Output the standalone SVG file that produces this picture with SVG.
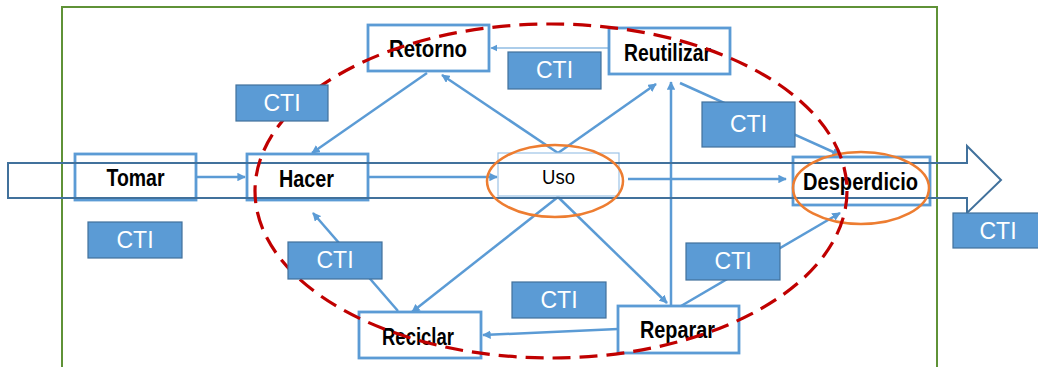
<svg xmlns="http://www.w3.org/2000/svg" width="1038" height="367" viewBox="0 0 1038 367">
<style>
.box{fill:#fff;stroke:#5B9BD5;stroke-width:2.8}
.lbl{font-family:"Liberation Sans",Arial,sans-serif;font-weight:bold;font-size:23px;fill:#000;text-anchor:middle}
.cti rect{fill:#5B9BD5;stroke:#41719C;stroke-width:1.2}
.cti text{font-family:"Liberation Sans",Arial,sans-serif;font-size:23px;fill:#fff;text-anchor:middle}
.con{stroke:#5B9BD5;stroke-width:2.5;fill:none;marker-end:url(#ah)}
.thin{stroke:#5B9BD5;stroke-width:1.2;fill:none;marker-end:url(#ahs)}
.orange{fill:none;stroke:#ED7D31;stroke-width:2.5}
</style>
<defs>
<marker id="ah" viewBox="0 0 10 10" refX="9" refY="5" markerWidth="3.4" markerHeight="3.4" orient="auto" markerUnits="strokeWidth">
<path d="M0,0 L10,5 L0,10 z" fill="#5B9BD5"/>
</marker>
<marker id="ahs" viewBox="0 0 10 10" refX="9" refY="5" markerWidth="6" markerHeight="6" orient="auto" markerUnits="strokeWidth">
<path d="M0,0 L10,5 L0,10 z" fill="#5B9BD5"/>
</marker>
</defs>
<rect width="1038" height="367" fill="#fff"/>
<rect id="frame" x="62" y="7" width="875" height="370" fill="none" stroke="#5F9237" stroke-width="2"/>

<g id="connectors">
<line class="con" x1="196" y1="177" x2="245" y2="177"/>
<line class="con" x1="368" y1="177" x2="497" y2="177"/>
<line class="con" x1="628" y1="179" x2="786" y2="179"/>
<line class="con" x1="427" y1="73" x2="312" y2="153"/>
<line class="con" x1="558" y1="153" x2="442" y2="75"/>
<line class="con" x1="558" y1="153" x2="656" y2="84"/>
<line class="thin" x1="609" y1="48" x2="491" y2="48"/>
<line class="con" x1="680" y1="83" x2="840" y2="155"/>
<line class="con" x1="671" y1="305" x2="671" y2="82"/>
<line class="con" x1="558" y1="197" x2="667" y2="303"/>
<line class="con" x1="558" y1="197" x2="412" y2="312"/>
<line class="con" x1="398" y1="311" x2="313" y2="213"/>
<line class="con" x1="618" y1="329" x2="483" y2="335"/>
<line class="con" x1="681" y1="306" x2="840" y2="213"/>
</g>

<g id="tomar"><rect class="box" x="75" y="154" width="121" height="46"/><text class="lbl" x="135.5" y="186" textLength="58" lengthAdjust="spacingAndGlyphs">Tomar</text></g>
<g id="hacer"><rect class="box" x="247" y="154" width="121" height="46"/><text class="lbl" x="306.5" y="187" textLength="55" lengthAdjust="spacingAndGlyphs">Hacer</text></g>
<g id="retorno"><rect class="box" x="368" y="25" width="121" height="46"/><text class="lbl" x="428" y="57" textLength="78" lengthAdjust="spacingAndGlyphs">Retorno</text></g>
<g id="reutilizar"><rect class="box" x="609" y="28" width="121" height="46"/><text class="lbl" x="667.5" y="61" textLength="87" lengthAdjust="spacingAndGlyphs">Reutilizar</text></g>
<g id="uso"><rect x="498" y="153" width="121" height="43" fill="#fff" stroke="#9DC3E6" stroke-width="1.2"/><text x="558.5" y="184" font-family="'Liberation Sans',Arial,sans-serif" font-size="21" text-anchor="middle" textLength="33" lengthAdjust="spacingAndGlyphs">Uso</text></g>
<g id="desperdicio"><rect class="box" x="793" y="157" width="137" height="48"/><text class="lbl" x="860.5" y="190" textLength="115" lengthAdjust="spacingAndGlyphs">Desperdicio</text></g>
<g id="reciclar"><rect class="box" x="359" y="312" width="122" height="46"/><text class="lbl" x="418" y="345" textLength="72" lengthAdjust="spacingAndGlyphs">Reciclar</text></g>
<g id="reparar"><rect class="box" x="618" y="306" width="121" height="47"/><text class="lbl" x="677.5" y="338" textLength="75" lengthAdjust="spacingAndGlyphs">Reparar</text></g>

<g id="flow-arrow">
<path d="M8,163 L967,163 L967,146 L1001,180 L967,213 L967,198 L8,198 Z" fill="none" stroke="#41719C" stroke-width="2"/>
</g>

<g id="highlights">
<ellipse class="orange" cx="555" cy="181" rx="68" ry="36"/>
<ellipse class="orange" cx="861" cy="188" rx="68" ry="36"/>
</g>

<g id="cycle">
<ellipse cx="551" cy="191" rx="296" ry="167" fill="none" stroke="#C00000" stroke-width="3.2" stroke-dasharray="18 9"/>
</g>

<g id="cti-1" class="cti"><rect x="236" y="85" width="92" height="36"/><text x="282" y="111">CTI</text></g>
<g id="cti-2" class="cti"><rect x="508" y="52" width="93" height="37"/><text x="554.5" y="78">CTI</text></g>
<g id="cti-3" class="cti"><rect x="702" y="102" width="93" height="45"/><text x="748.5" y="132">CTI</text></g>
<g id="cti-4" class="cti"><rect x="88" y="222" width="94" height="36"/><text x="135" y="248">CTI</text></g>
<g id="cti-5" class="cti"><rect x="288" y="242" width="94" height="37"/><text x="335" y="268">CTI</text></g>
<g id="cti-6" class="cti"><rect x="686" y="243" width="94" height="37"/><text x="733" y="269">CTI</text></g>
<g id="cti-7" class="cti"><rect x="512" y="282" width="94" height="36"/><text x="559" y="308">CTI</text></g>
<g id="cti-8" class="cti"><rect x="953" y="213" width="92" height="35"/><text x="998" y="239">CTI</text></g>
</svg>
